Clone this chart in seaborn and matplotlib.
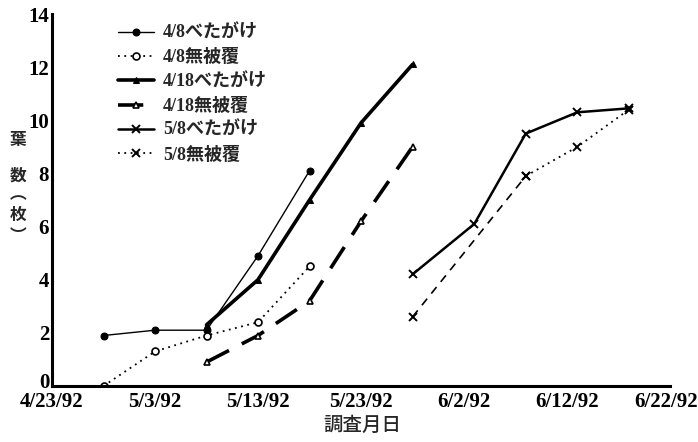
import matplotlib
matplotlib.use("Agg")
import matplotlib.pyplot as plt
import matplotlib.transforms as mtrans
import pandas as pd
import seaborn as sns

# Survey dates and leaf counts per planting / covering treatment
dates_48 = ["1992-04-28", "1992-05-03", "1992-05-08", "1992-05-13", "1992-05-18"]
leaves_48_cover = [1.9, 2.1, 2.1, 4.9, 8.1]
leaves_48_open = [0.0, 1.3, 1.9, 2.4, 4.5]

dates_418 = ["1992-05-08", "1992-05-13", "1992-05-18", "1992-05-23", "1992-05-28"]
leaves_418_cover = [2.3, 4.0, 7.0, 9.9, 12.1]
leaves_418_open = [0.9, 1.9, 3.2, 6.2, 9.0]

dates_58_cover = ["1992-05-28", "1992-06-03", "1992-06-08", "1992-06-13", "1992-06-18"]
leaves_58_cover = [4.2, 6.1, 9.5, 10.3, 10.45]
dates_58_open = ["1992-05-28", "1992-06-08", "1992-06-13", "1992-06-18"]
leaves_58_open = [2.6, 7.9, 9.0, 10.4]

series_labels = ["4/8べたがけ", "4/8無被覆", "4/18べたがけ", "4/18無被覆", "5/8べたがけ", "5/8無被覆"]
tick_dates = ["1992-04-23", "1992-05-03", "1992-05-13", "1992-05-23",
              "1992-06-02", "1992-06-12", "1992-06-22"]
y_ticks = [0, 2, 4, 6, 8, 10, 12, 14]

sns.set_theme(style="white")
plt.rcParams["font.family"] = ["Liberation Serif", "Noto Sans CJK JP"]

fig = plt.figure(figsize=(6.98, 4.42), dpi=100)
ax = fig.add_axes([52 / 698, 56 / 442, 618 / 698, 372 / 442])

def to_dt(d):
    return pd.to_datetime(pd.Series(d))

k = dict(ax=ax, color="black", markeredgecolor="black")

sns.lineplot(x=to_dt(dates_48), y=leaves_48_cover, lw=1.0, marker="o", ms=5,
             markerfacecolor="black", label=series_labels[0], **k)
sns.lineplot(x=to_dt(dates_48), y=leaves_48_open, lw=1.3, linestyle=(0, (1, 2.5)),
             marker="o", ms=5, markerfacecolor="white", markeredgewidth=1.2,
             label=series_labels[1], **k)
sns.lineplot(x=to_dt(dates_418), y=leaves_418_cover, lw=2.6, marker="^", ms=5,
             markerfacecolor="black", label=series_labels[2], **k)
sns.lineplot(x=to_dt(dates_418), y=leaves_418_open, lw=2.6, linestyle=(0, (7, 4)),
             marker="^", ms=5, markerfacecolor="white", markeredgewidth=1.2,
             label=series_labels[3], **k)
sns.lineplot(x=to_dt(dates_58_cover), y=leaves_58_cover, lw=1.8, marker="x", ms=6,
             markeredgewidth=1.4, label=series_labels[4], **k)
# first interval of the uncovered 5/8 series is drawn dashed, the rest dotted
sns.lineplot(x=to_dt(dates_58_open[:2]), y=leaves_58_open[:2], lw=1.2,
             linestyle=(0, (5, 4)), marker="x", ms=6, markeredgewidth=1.4,
             label="_nolegend_", **k)
sns.lineplot(x=to_dt(dates_58_open[1:]), y=leaves_58_open[1:], lw=1.3,
             linestyle=(0, (1, 2.5)), marker="x", ms=6, markeredgewidth=1.4,
             label=series_labels[5], **k)

ticks = pd.to_datetime(tick_dates)
ax.set_xlim(ticks[0], ticks[-1])
ax.set_ylim(0, 14)
ax.set_xticks(ticks)
ax.set_xticklabels([f"{t.month}/{t.day}/{t.strftime('%y')}" for t in ticks])
ax.set_yticks(y_ticks)
ax.set_yticklabels([str(v) for v in y_ticks])

for s in ["top", "right"]:
    ax.spines[s].set_visible(False)
for s in ["left", "bottom"]:
    ax.spines[s].set_linewidth(2.2)
    ax.spines[s].set_color("black")
ax.tick_params(axis="both", direction="in", length=4, width=2, colors="black",
               labelsize=15)
ax.tick_params(axis="x", pad=4)
ax.tick_params(axis="y", pad=2)
for lab in ax.get_xticklabels() + ax.get_yticklabels():
    lab.set_fontweight("bold")
# lift the zero label slightly so it clears the first date label
zero_lab = ax.get_yticklabels()[0]
zero_lab.set_transform(zero_lab.get_transform() +
                       mtrans.ScaledTranslation(0, 5 / 100, fig.dpi_scale_trans))
# keep the last date label inside the figure edge
last_lab = ax.get_xticklabels()[-1]
last_lab.set_transform(last_lab.get_transform() +
                       mtrans.ScaledTranslation(-4 / 100, 0, fig.dpi_scale_trans))
ax.set_xlabel("")
ax.set_ylabel("")

fig.text(362 / 698, 1 - 425 / 442, "調査月日", ha="center", va="center",
         fontsize=14, fontweight="medium", family=["Noto Sans CJK JP"])
# vertical y-axis title: 葉数（枚）
for ch, yy in [("葉", 140), ("数", 176)]:
    fig.text(18 / 698, 1 - yy / 442, ch, ha="center", va="center",
             fontsize=12, fontweight="bold", family=["Noto Sans CJK JP"])
fig.text(18 / 698, 1 - 215 / 442, "︵\n枚\n︶", ha="center", va="center",
         ma="center", linespacing=1.2, fontsize=12, fontweight="bold",
         family=["Noto Sans CJK JP"])

leg = ax.legend(loc="upper left", bbox_to_anchor=((118 - 52) / 618, (386 - 25) / 372),
                frameon=False, prop={"size": 13, "weight": "bold"},
                handlelength=2.0, handletextpad=0.5,
                labelspacing=0.4, borderaxespad=0, borderpad=0)

fig.savefig("out.png", dpi=100)
